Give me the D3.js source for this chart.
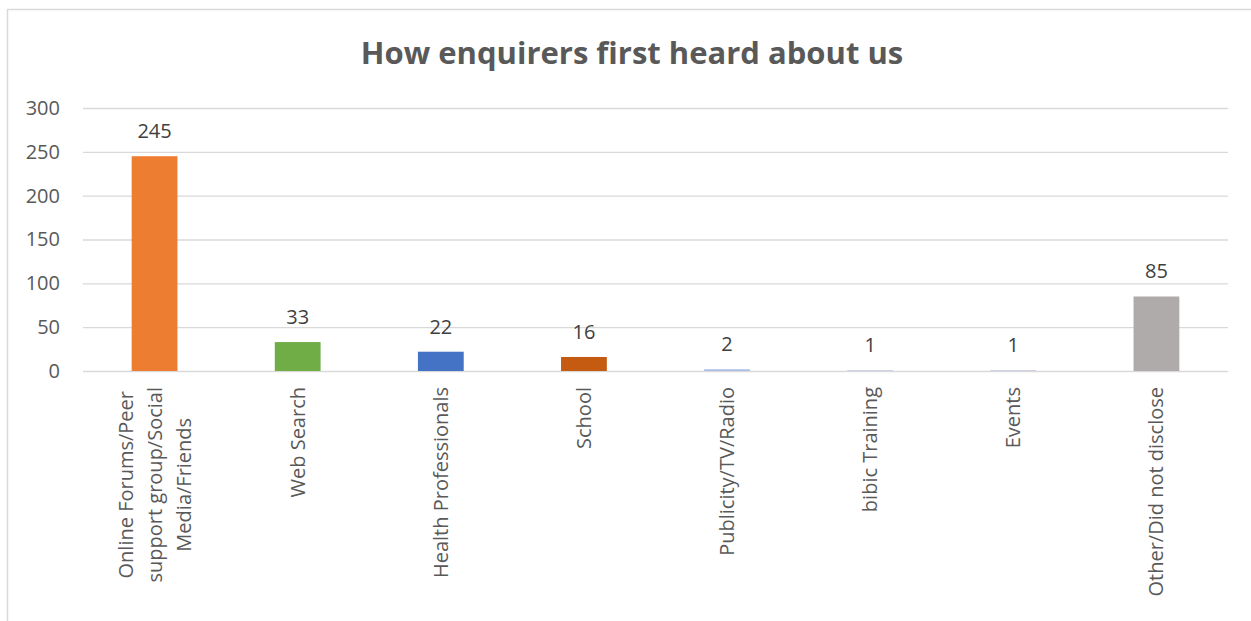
<!DOCTYPE html>
<html>
<head>
<meta charset="utf-8">
<script src="https://cdn.jsdelivr.net/npm/d3@7"></script>
<style>
  body { margin: 0; background: #fff; }
  svg { display: block; font-family: "Open Sans", sans-serif; }
</style>
</head>
<body>
<svg id="chart"></svg>
<script>
const categories = [
    ["Online Forums/Peer", "support group/Social", "Media/Friends"],
    ["Web Search"],
    ["Health Professionals"],
    ["School"],
    ["Publicity/TV/Radio"],
    ["bibic Training"],
    ["Events"],
    ["Other/Did not disclose"]
];
const values = [245, 33, 22, 16, 2, 1, 1, 85];
const colors = ["#ED7D31", "#70AD47", "#4472C4", "#C55A11", "#A9BFE6", "#C5CBE3", "#C5CBE3", "#AFABAB"];
const yTicks = [0, 50, 100, 150, 200, 250, 300];

const width = 1251;
const height = 621;

const svg = d3.select("#chart").attr("width", width).attr("height", height);

// chart area border
svg.append("rect")
    .attr("x", 7.5).attr("y", 9.5)
    .attr("width", 1260).attr("height", 640)
    .attr("fill", "#fff")
    .attr("stroke", "#d9d9d9")
    .attr("stroke-width", 1.5);

const x = d3.scaleBand()
    .domain(d3.range(categories.length))
    .range([83, 1228])
    .paddingInner(0.68)
    .paddingOuter(0.34);

const y = d3.scaleLinear().domain([0, 300]).range([371, 108]);

// gridlines + tick labels
svg.append("g")
    .attr("transform", "translate(83,0)")
    .call(d3.axisLeft(y).tickValues(yTicks).tickSize(-1145).tickPadding(23))
    .call(g => g.select(".domain").remove())
    .call(g => g.selectAll(".tick line").attr("stroke", "#d9d9d9").attr("stroke-width", 1.3))
    .call(g => g.selectAll(".tick text")
        .attr("fill", "#595959")
        .style("font-size", "20px")
        .style("font-family", "'Open Sans', sans-serif"));

// bars
svg.selectAll(".bar")
    .data(values)
    .enter()
    .append("rect")
    .attr("class", "bar")
    .attr("x", (d, i) => x(i))
    .attr("y", d => y(d))
    .attr("width", x.bandwidth())
    .attr("height", d => y(0) - y(d))
    .attr("fill", (d, i) => colors[i]);

// data labels
svg.selectAll(".val")
    .data(values)
    .enter()
    .append("text")
    .attr("class", "val")
    .attr("x", (d, i) => x(i) + x.bandwidth() / 2)
    .attr("y", d => y(d) - 18)
    .attr("text-anchor", "middle")
    .attr("fill", "#404040")
    .style("font-size", "20px")
    .text(d => d);

// category labels, rotated
const lineGap = 29;
const labels = svg.selectAll(".cat")
    .data(categories)
    .enter()
    .append("text")
    .attr("class", "cat")
    .attr("transform", (d, i) => {
        const cx = x(i) + x.bandwidth() / 2;
        return `translate(${cx},387) rotate(-90)`;
    })
    .attr("fill", "#595959")
    .style("font-size", "20px");

labels.each(function(lines) {
    const t = d3.select(this);
    const n = lines.length;
    lines.forEach((l, k) => {
        t.append("tspan")
            .attr("y", (k - (n - 1) / 2) * lineGap + 7)
            .text(l);
    });
});

// right-align block top, center lines within block
labels.each(function() {
    const spans = d3.select(this).selectAll("tspan").nodes();
    const widths = spans.map(s => s.getComputedTextLength());
    const w = d3.max(widths);
    spans.forEach((s, k) => {
        d3.select(s).attr("x", -w / 2 - widths[k] / 2);
    });
});

// title
svg.append("text")
    .attr("x", 632)
    .attr("y", 64)
    .attr("text-anchor", "middle")
    .attr("fill", "#595959")
    .style("font-size", "31px")
    .style("font-weight", "bold")
    .text("How enquirers first heard about us");
</script>
</body>
</html>
